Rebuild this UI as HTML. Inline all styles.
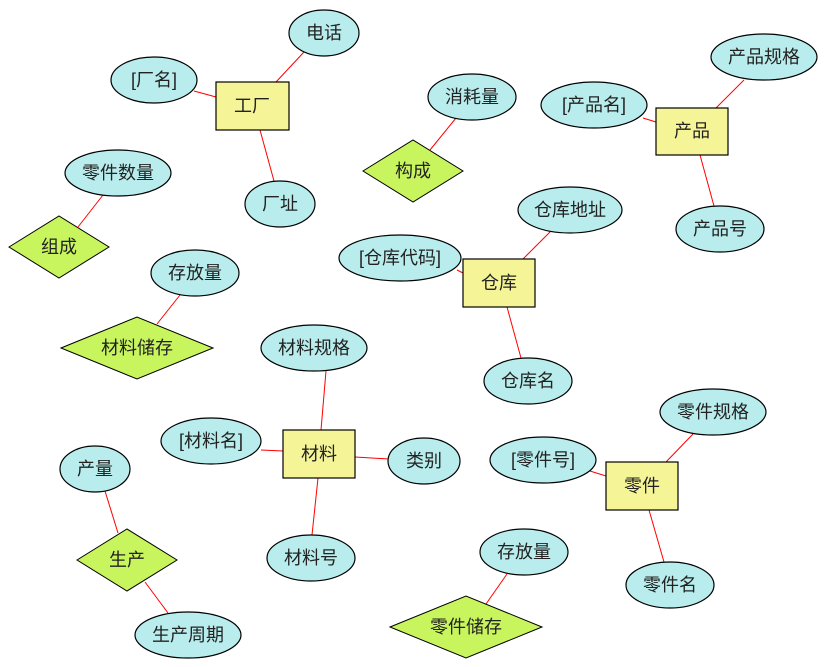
<!DOCTYPE html>
<html><head><meta charset="utf-8"><style>
html,body{margin:0;padding:0;background:#fff;}
svg{display:block;}
text{font-family:"Liberation Sans","Noto Sans CJK SC",sans-serif;font-size:18px;fill:#222;text-anchor:middle;dominant-baseline:central;}
ellipse{fill:#b9eded;stroke:#000;stroke-width:1.2;}
rect{fill:#f5f598;stroke:#000;stroke-width:1.2;}
polygon{fill:#c8f45e;stroke:#000;stroke-width:1;}
line{stroke:#f00;stroke-width:1;}
</style></head><body>
<svg width="827" height="667" viewBox="0 0 827 667" xmlns="http://www.w3.org/2000/svg">
<line x1="276" y1="82" x2="304" y2="52"/>
<line x1="194" y1="91" x2="216" y2="97"/>
<line x1="260" y1="130" x2="274" y2="181"/>
<line x1="430" y1="150" x2="456" y2="118"/>
<line x1="643" y1="118" x2="656" y2="122"/>
<line x1="716" y1="108" x2="744" y2="80"/>
<line x1="700" y1="155" x2="714" y2="206"/>
<line x1="78" y1="227" x2="103" y2="195"/>
<line x1="457" y1="270" x2="463" y2="273"/>
<line x1="523" y1="259" x2="551" y2="231"/>
<line x1="507" y1="307" x2="521" y2="358"/>
<line x1="157" y1="324" x2="180" y2="295"/>
<line x1="321" y1="430" x2="326" y2="371"/>
<line x1="261" y1="450" x2="283" y2="451"/>
<line x1="355" y1="457" x2="389" y2="459"/>
<line x1="318" y1="478" x2="312" y2="535"/>
<line x1="590" y1="471" x2="606" y2="476"/>
<line x1="666" y1="462" x2="693" y2="434"/>
<line x1="649" y1="510" x2="664" y2="562"/>
<line x1="105" y1="491" x2="118" y2="533"/>
<line x1="145" y1="582" x2="168" y2="613"/>
<line x1="486" y1="604" x2="507" y2="574"/>
<ellipse cx="324" cy="33" rx="35" ry="23"/><text x="324" y="33">电话</text>
<ellipse cx="154" cy="80" rx="43" ry="23"/><text x="154" y="80">[厂名]</text>
<rect x="216" y="82" width="73" height="48"/><text x="252" y="106">工厂</text>
<ellipse cx="280" cy="204" rx="35" ry="23"/><text x="280" y="204">厂址</text>
<ellipse cx="472" cy="97" rx="44" ry="23"/><text x="472" y="97">消耗量</text>
<polygon points="363,171 413,140 463,171 413,202"/><text x="413" y="171">构成</text>
<ellipse cx="594" cy="105" rx="53" ry="23"/><text x="594" y="105">[产品名]</text>
<ellipse cx="764" cy="57" rx="53" ry="23"/><text x="764" y="57">产品规格</text>
<rect x="656" y="108" width="72" height="47"/><text x="692" y="131">产品</text>
<ellipse cx="720" cy="229" rx="44" ry="23"/><text x="720" y="229">产品号</text>
<ellipse cx="118" cy="173" rx="53" ry="23"/><text x="118" y="173">零件数量</text>
<polygon points="9,247 59,216 109,247 59,278"/><text x="59" y="247">组成</text>
<ellipse cx="570" cy="210" rx="52" ry="23"/><text x="570" y="210">仓库地址</text>
<ellipse cx="400" cy="258" rx="61" ry="23"/><text x="400" y="258">[仓库代码]</text>
<rect x="463" y="259" width="72" height="48"/><text x="499" y="283">仓库</text>
<ellipse cx="528" cy="381" rx="44" ry="23"/><text x="528" y="381">仓库名</text>
<ellipse cx="195" cy="273" rx="44" ry="23"/><text x="195" y="273">存放量</text>
<polygon points="61,348 137,317 213,348 137,379"/><text x="137" y="348">材料储存</text>
<ellipse cx="314" cy="348" rx="53" ry="23"/><text x="314" y="348">材料规格</text>
<ellipse cx="211" cy="441" rx="50" ry="23"/><text x="211" y="441">[材料名]</text>
<rect x="283" y="430" width="72" height="48"/><text x="319" y="454">材料</text>
<ellipse cx="424" cy="461" rx="36" ry="23"/><text x="424" y="461">类别</text>
<ellipse cx="311" cy="558" rx="44" ry="23"/><text x="311" y="558">材料号</text>
<ellipse cx="713" cy="412" rx="53" ry="23"/><text x="713" y="412">零件规格</text>
<ellipse cx="543" cy="460" rx="53" ry="23"/><text x="543" y="460">[零件号]</text>
<rect x="606" y="462" width="72" height="48"/><text x="642" y="486">零件</text>
<ellipse cx="670" cy="585" rx="44" ry="23"/><text x="670" y="585">零件名</text>
<ellipse cx="95" cy="469" rx="35" ry="23"/><text x="95" y="469">产量</text>
<polygon points="77,560 127,529 177,560 127,591"/><text x="127" y="560">生产</text>
<ellipse cx="188" cy="635" rx="53" ry="23"/><text x="188" y="635">生产周期</text>
<ellipse cx="524" cy="552" rx="44" ry="23"/><text x="524" y="552">存放量</text>
<polygon points="390,627 466,596 542,627 466,658"/><text x="466" y="627">零件储存</text>
</svg>
</body></html>
